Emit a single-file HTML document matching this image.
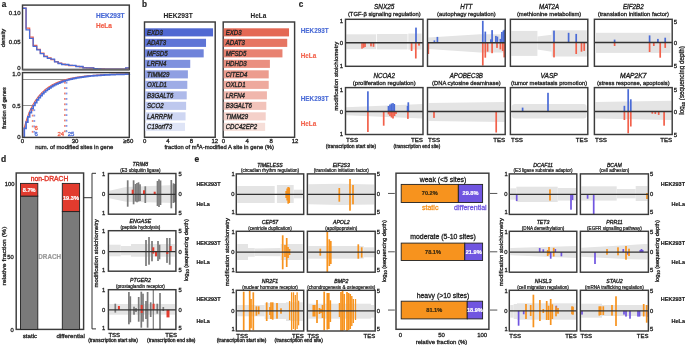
<!DOCTYPE html><html><head><meta charset="utf-8"><style>html,body{margin:0;padding:0;background:#fff;}svg{display:block;will-change:transform}text{font-family:"Liberation Sans",sans-serif;}</style></head><body>
<svg width="685" height="345" viewBox="0 0 685 345">
<rect width="685" height="345" fill="#fff"/>
<text x="1.80" y="7.30" font-size="8.2" text-anchor="start" fill="#222" stroke="#222" stroke-width="0.2" font-weight="bold" font-style="normal" >a</text>
<polyline points="22.50,8.26 26.06,8.26 26.06,28.14 29.62,28.14 29.62,37.22 33.18,37.22 33.18,45.46 36.74,45.46 36.74,49.44 40.30,49.44 40.30,53.13 43.86,53.13 43.86,56.25 47.42,56.25 47.42,57.96 50.98,57.96 50.98,59.66 54.54,59.66 54.54,61.53 58.10,61.53 58.10,63.24 61.66,63.24 61.66,64.26 65.22,64.26 65.22,64.77 68.78,64.77 68.78,65.51 72.34,65.51 72.34,65.62 75.90,65.62 75.90,66.31 79.46,66.31 79.46,66.76 83.02,66.76 83.02,67.61 86.58,67.61 86.58,67.90 90.14,67.90 90.14,68.01 93.70,68.01 93.70,68.58 97.26,68.58 97.26,68.80 100.82,68.80 100.82,68.92 104.38,68.92 104.38,69.03 107.94,69.03 107.94,69.09 111.50,69.09 111.50,69.15 115.06,69.15 115.06,69.20 118.62,69.20 118.62,69.20 122.18,69.20 122.18,69.26 125.74,69.26 125.74,68.18 129.30,68.18" fill="none" stroke="#f2604a" stroke-width="1.3"/>
<polyline points="22.50,8.26 26.06,8.26 26.06,29.84 29.62,29.84 29.62,38.36 33.18,38.36 33.18,46.31 36.74,46.31 36.74,49.89 40.30,49.89 40.30,53.53 43.86,53.53 43.86,56.59 47.42,56.59 47.42,58.30 50.98,58.30 50.98,59.21 54.54,59.21 54.54,61.88 58.10,61.88 58.10,63.52 61.66,63.52 61.66,64.49 65.22,64.49 65.22,64.49 68.78,64.49 68.78,65.28 72.34,65.28 72.34,65.28 75.90,65.28 75.90,66.48 79.46,66.48 79.46,66.48 83.02,66.48 83.02,67.78 86.58,67.78 86.58,67.78 90.14,67.78 90.14,67.78 93.70,67.78 93.70,68.75 97.26,68.75 97.26,68.92 100.82,68.92 100.82,69.03 104.38,69.03 104.38,69.03 107.94,69.03 107.94,69.09 111.50,69.09 111.50,69.15 115.06,69.15 115.06,69.15 118.62,69.15 118.62,69.20 122.18,69.20 122.18,69.20 125.74,69.20 125.74,67.78 129.30,67.78" fill="none" stroke="#4a6bd6" stroke-width="1.3"/>
<rect x="22.50" y="5.10" width="106.80" height="64.50" fill="none" stroke="#3c3c3c" stroke-width="1.45"/>
<line x1="22.50" y1="69.60" x2="129.30" y2="69.60" stroke="#666" stroke-width="1.6" />
<text x="20.50" y="14.96" font-size="6" text-anchor="end" fill="#222" stroke="#222" stroke-width="0.3" font-weight="normal" font-style="normal" >0.10</text>
<text x="20.50" y="44.36" font-size="6" text-anchor="end" fill="#222" stroke="#222" stroke-width="0.3" font-weight="normal" font-style="normal" >0.05</text>
<text x="20.50" y="69.96" font-size="6" text-anchor="end" fill="#222" stroke="#222" stroke-width="0.3" font-weight="normal" font-style="normal" >0</text>
<text transform="translate(5.43,38.00) rotate(-90)" font-size="6.2" text-anchor="middle" fill="#222" stroke="#222" stroke-width="0.3" font-weight="normal" font-style="normal" textLength="18.6" lengthAdjust="spacingAndGlyphs">density</text>
<text x="96.00" y="18.14" font-size="6.5" text-anchor="start" fill="#4a6bd6" stroke="#4a6bd6" stroke-width="0.2" font-weight="bold" font-style="normal" >HEK293T</text>
<text x="96.00" y="28.24" font-size="6.5" text-anchor="start" fill="#f2604a" stroke="#f2604a" stroke-width="0.2" font-weight="bold" font-style="normal" >HeLa</text>
<line x1="22.50" y1="79.50" x2="65.60" y2="79.50" stroke="#777" stroke-width="0.8" />
<line x1="22.50" y1="105.50" x2="33.20" y2="105.50" stroke="#777" stroke-width="0.8" />
<polyline points="24.28,137.40 24.28,127.85 25.17,124.39 26.06,121.32 26.95,118.54 27.84,116.01 28.73,113.68 29.62,111.52 30.51,109.52 31.40,107.66 32.29,105.92 33.18,104.30 34.07,102.77 34.96,101.34 35.85,99.99 36.74,98.73 37.63,97.53 38.52,96.40 39.41,95.34 40.30,94.33 41.19,93.37 42.08,92.47 42.97,91.62 43.86,90.80 44.75,90.04 45.64,89.30 46.53,88.61 47.42,87.95 48.31,87.32 49.20,86.73 50.09,86.16 50.98,85.62 51.87,85.10 52.76,84.61 53.65,84.15 54.54,83.70 55.43,83.28 56.32,82.87 57.21,82.48 58.10,82.12 58.99,81.76 59.88,81.43 60.77,81.11 61.66,80.80 62.55,80.50 63.44,80.22 64.33,79.96 65.22,79.70 66.11,79.45 67.00,79.22 67.89,78.99 68.78,78.78 69.67,78.57 70.56,78.38 71.45,78.19 72.34,78.01 73.23,77.83 74.12,77.67 75.01,77.51 75.90,77.36 76.79,77.21 77.68,77.07 78.57,76.94 79.46,76.81 80.35,76.68 81.24,76.57 82.13,76.45 83.02,76.34 83.91,76.24 84.80,76.14 85.69,76.04 86.58,75.95 87.47,75.86 88.36,75.78 89.25,75.69 90.14,75.62 91.03,75.54 91.92,75.47 92.81,75.40 93.70,75.33 94.59,75.27 95.48,75.20 96.37,75.14 97.26,75.09 98.15,75.03 99.04,74.98 99.93,74.93 100.82,74.88 101.71,74.83 102.60,74.79 103.49,74.75 104.38,74.70 105.27,74.66 106.16,74.62 107.05,74.59 107.94,74.55 108.83,74.52 109.72,74.48 110.61,74.45 111.50,74.42 112.39,74.39 113.28,74.36 114.17,74.34 115.06,74.31 115.95,74.28 116.84,74.26 117.73,74.24 118.62,74.21 119.51,74.19 120.40,74.17 121.29,74.15 122.18,74.13 123.07,74.11 123.96,74.09 124.85,74.08 125.74,74.06 126.63,74.04 127.52,74.03 128.41,74.01 129.30,74.00 129.30,73.99" fill="none" stroke="#f2604a" stroke-width="1.1"/>
<polyline points="24.28,137.40 24.28,128.31 26.06,128.31 26.06,122.04 27.84,122.04 27.84,116.92 29.62,116.92 29.62,112.56 31.40,112.56 31.40,108.79 33.18,108.79 33.18,105.49 34.96,105.49 34.96,102.57 36.74,102.57 36.74,99.97 38.52,99.97 38.52,97.65 40.30,97.65 40.30,95.58 42.08,95.58 42.08,93.71 43.86,93.71 43.86,92.02 45.64,92.02 45.64,90.49 47.42,90.49 47.42,89.11 49.20,89.11 49.20,87.85 50.98,87.85 50.98,86.71 52.76,86.71 52.76,85.67 54.54,85.67 54.54,84.72 56.32,84.72 56.32,83.85 58.10,83.85 58.10,83.06 59.88,83.06 59.88,82.33 61.66,82.33 61.66,81.66 63.44,81.66 63.44,81.05 65.22,81.05 65.22,80.49 67.00,80.49 67.00,79.98 68.78,79.98 68.78,79.50 70.56,79.50 70.56,79.07 72.34,79.07 72.34,78.66 74.12,78.66 74.12,78.29 75.90,78.29 75.90,77.95 77.68,77.95 77.68,77.64 79.46,77.64 79.46,77.35 81.24,77.35 81.24,77.08 83.02,77.08 83.02,76.83 84.80,76.83 84.80,76.60 86.58,76.60 86.58,76.39 88.36,76.39 88.36,76.19 90.14,76.19 90.14,76.01 91.92,76.01 91.92,75.84 93.70,75.84 93.70,75.69 95.48,75.69 95.48,75.54 97.26,75.54 97.26,75.41 99.04,75.41 99.04,75.28 100.82,75.28 100.82,75.17 102.60,75.17 102.60,75.06 104.38,75.06 104.38,74.96 106.16,74.96 106.16,74.87 107.94,74.87 107.94,74.78 109.72,74.78 109.72,74.70 111.50,74.70 111.50,74.63 113.28,74.63 113.28,74.56 115.06,74.56 115.06,74.50 116.84,74.50 116.84,74.44 118.62,74.44 118.62,74.38 120.40,74.38 120.40,74.33 122.18,74.33 122.18,74.28 123.96,74.28 123.96,74.24 125.74,74.24 125.74,74.20 127.52,74.20 127.52,74.16 129.30,74.16 129.30,74.12 129.30,74.12" fill="none" stroke="#4a6bd6" stroke-width="1.7"/>
<rect x="31.80" y="109.30" width="1.70" height="1.80" fill="#f3846f" />
<rect x="33.50" y="109.30" width="1.70" height="1.80" fill="#7f9aeb" />
<rect x="31.80" y="114.70" width="1.70" height="1.80" fill="#f3846f" />
<rect x="33.50" y="114.70" width="1.70" height="1.80" fill="#7f9aeb" />
<rect x="31.80" y="120.10" width="1.70" height="1.80" fill="#f3846f" />
<rect x="33.50" y="120.10" width="1.70" height="1.80" fill="#7f9aeb" />
<rect x="31.80" y="125.50" width="1.70" height="1.80" fill="#f3846f" />
<rect x="33.50" y="125.50" width="1.70" height="1.80" fill="#7f9aeb" />
<rect x="31.80" y="130.90" width="1.70" height="1.80" fill="#f3846f" />
<rect x="33.50" y="130.90" width="1.70" height="1.80" fill="#7f9aeb" />
<rect x="64.00" y="81.80" width="1.70" height="1.80" fill="#f3846f" />
<rect x="65.70" y="81.80" width="1.70" height="1.80" fill="#7f9aeb" />
<rect x="64.00" y="87.20" width="1.70" height="1.80" fill="#f3846f" />
<rect x="65.70" y="87.20" width="1.70" height="1.80" fill="#7f9aeb" />
<rect x="64.00" y="92.60" width="1.70" height="1.80" fill="#f3846f" />
<rect x="65.70" y="92.60" width="1.70" height="1.80" fill="#7f9aeb" />
<rect x="64.00" y="98.00" width="1.70" height="1.80" fill="#f3846f" />
<rect x="65.70" y="98.00" width="1.70" height="1.80" fill="#7f9aeb" />
<rect x="64.00" y="103.40" width="1.70" height="1.80" fill="#f3846f" />
<rect x="65.70" y="103.40" width="1.70" height="1.80" fill="#7f9aeb" />
<rect x="64.00" y="108.80" width="1.70" height="1.80" fill="#f3846f" />
<rect x="65.70" y="108.80" width="1.70" height="1.80" fill="#7f9aeb" />
<rect x="64.00" y="114.20" width="1.70" height="1.80" fill="#f3846f" />
<rect x="65.70" y="114.20" width="1.70" height="1.80" fill="#7f9aeb" />
<rect x="64.00" y="119.60" width="1.70" height="1.80" fill="#f3846f" />
<rect x="65.70" y="119.60" width="1.70" height="1.80" fill="#7f9aeb" />
<rect x="64.00" y="125.00" width="1.70" height="1.80" fill="#f3846f" />
<rect x="65.70" y="125.00" width="1.70" height="1.80" fill="#7f9aeb" />
<rect x="64.00" y="130.40" width="1.70" height="1.80" fill="#f3846f" />
<rect x="65.70" y="130.40" width="1.70" height="1.80" fill="#7f9aeb" />
<rect x="22.50" y="72.60" width="106.80" height="64.80" fill="none" stroke="#3c3c3c" stroke-width="1.45"/>
<text x="34.60" y="129.56" font-size="6" text-anchor="start" fill="#f2604a" stroke="#f2604a" stroke-width="0.3" font-weight="normal" font-style="normal" >6</text>
<text x="34.60" y="136.06" font-size="6" text-anchor="start" fill="#4a6bd6" stroke="#4a6bd6" stroke-width="0.3" font-weight="normal" font-style="normal" >6</text>
<text x="64.20" y="136.06" font-size="6" text-anchor="end" fill="#f2604a" stroke="#f2604a" stroke-width="0.3" font-weight="normal" font-style="normal" >24</text>
<text x="67.70" y="136.06" font-size="6" text-anchor="start" fill="#4a6bd6" stroke="#4a6bd6" stroke-width="0.3" font-weight="normal" font-style="normal" >25</text>
<text x="66.2" y="132.5" font-size="4" fill="#777" text-anchor="middle">*</text>
<text x="20.50" y="75.76" font-size="6" text-anchor="end" fill="#222" stroke="#222" stroke-width="0.3" font-weight="normal" font-style="normal" >1.0</text>
<text x="20.50" y="107.66" font-size="6" text-anchor="end" fill="#222" stroke="#222" stroke-width="0.3" font-weight="normal" font-style="normal" >0.5</text>
<text x="20.50" y="139.16" font-size="6" text-anchor="end" fill="#222" stroke="#222" stroke-width="0.3" font-weight="normal" font-style="normal" >0</text>
<text transform="translate(6.43,108.00) rotate(-90)" font-size="6.2" text-anchor="middle" fill="#222" stroke="#222" stroke-width="0.3" font-weight="normal" font-style="normal" textLength="41.5" lengthAdjust="spacingAndGlyphs">fraction of genes</text>
<text x="22.50" y="143.46" font-size="6" text-anchor="middle" fill="#222" stroke="#222" stroke-width="0.3" font-weight="normal" font-style="normal" >0</text>
<text x="75.10" y="143.46" font-size="6" text-anchor="middle" fill="#222" stroke="#222" stroke-width="0.3" font-weight="normal" font-style="normal" >30</text>
<text x="128.30" y="143.46" font-size="6" text-anchor="middle" fill="#222" stroke="#222" stroke-width="0.3" font-weight="normal" font-style="normal" >≥60</text>
<text x="74.30" y="149.46" font-size="6" text-anchor="middle" fill="#222" stroke="#222" stroke-width="0.3" font-weight="normal" font-style="normal"  textLength="78.2" lengthAdjust="spacingAndGlyphs">num. of modified sites in gene</text>
<text x="142.00" y="7.20" font-size="8.2" text-anchor="start" fill="#222" stroke="#222" stroke-width="0.2" font-weight="bold" font-style="normal" >b</text>
<text x="178.10" y="18.14" font-size="6.5" text-anchor="middle" fill="#222" stroke="#222" stroke-width="0.05" font-weight="bold" font-style="normal"  textLength="29.2" lengthAdjust="spacingAndGlyphs">HEK293T</text>
<rect x="144.50" y="22.00" width="70.70" height="115.30" fill="none" stroke="#3c3c3c" stroke-width="1.45"/>
<rect x="145.00" y="28.30" width="68.05" height="8.10" fill="#5068d2" />
<text x="147.00" y="34.92" font-size="7.0" text-anchor="start" fill="#2a2a2a" stroke="#2a2a2a" stroke-width="0.38" font-weight="normal" font-style="italic"  textLength="15.91" lengthAdjust="spacingAndGlyphs">EXD3</text>
<rect x="145.00" y="38.80" width="61.03" height="8.10" fill="#5f75d6" />
<text x="147.00" y="45.42" font-size="7.0" text-anchor="start" fill="#2a2a2a" stroke="#2a2a2a" stroke-width="0.38" font-weight="normal" font-style="italic"  textLength="19.18" lengthAdjust="spacingAndGlyphs">ADAT3</text>
<rect x="145.00" y="49.30" width="58.69" height="8.10" fill="#6f83da" />
<text x="147.00" y="55.92" font-size="7.0" text-anchor="start" fill="#2a2a2a" stroke="#2a2a2a" stroke-width="0.38" font-weight="normal" font-style="italic"  textLength="20.64" lengthAdjust="spacingAndGlyphs">MFSD5</text>
<rect x="145.00" y="59.80" width="45.23" height="8.10" fill="#7f91de" />
<text x="147.00" y="66.42" font-size="7.0" text-anchor="start" fill="#2a2a2a" stroke="#2a2a2a" stroke-width="0.38" font-weight="normal" font-style="italic"  textLength="19.29" lengthAdjust="spacingAndGlyphs">LRFN4</text>
<rect x="145.00" y="70.30" width="42.89" height="8.10" fill="#8f9fe2" />
<text x="147.00" y="76.92" font-size="7.0" text-anchor="start" fill="#2a2a2a" stroke="#2a2a2a" stroke-width="0.38" font-weight="normal" font-style="italic"  textLength="22.33" lengthAdjust="spacingAndGlyphs">TIMM29</text>
<rect x="145.00" y="80.80" width="42.31" height="8.10" fill="#9eace6" />
<text x="147.00" y="87.42" font-size="7.0" text-anchor="start" fill="#2a2a2a" stroke="#2a2a2a" stroke-width="0.38" font-weight="normal" font-style="italic"  textLength="19.97" lengthAdjust="spacingAndGlyphs">OXLD1</text>
<rect x="145.00" y="91.30" width="41.72" height="8.10" fill="#aebaea" />
<text x="147.00" y="97.92" font-size="7.0" text-anchor="start" fill="#2a2a2a" stroke="#2a2a2a" stroke-width="0.38" font-weight="normal" font-style="italic"  textLength="26.29" lengthAdjust="spacingAndGlyphs">B3GALT6</text>
<rect x="145.00" y="101.80" width="41.13" height="8.10" fill="#bec8ee" />
<text x="147.00" y="108.42" font-size="7.0" text-anchor="start" fill="#2a2a2a" stroke="#2a2a2a" stroke-width="0.38" font-weight="normal" font-style="italic"  textLength="16.58" lengthAdjust="spacingAndGlyphs">SCO2</text>
<rect x="145.00" y="112.30" width="40.55" height="8.10" fill="#ced6f2" />
<text x="147.00" y="118.92" font-size="7.0" text-anchor="start" fill="#2a2a2a" stroke="#2a2a2a" stroke-width="0.38" font-weight="normal" font-style="italic"  textLength="25.38" lengthAdjust="spacingAndGlyphs">LARRPM</text>
<rect x="145.00" y="122.80" width="39.97" height="8.10" fill="#dee4f6" />
<text x="147.00" y="129.42" font-size="7.0" text-anchor="start" fill="#2a2a2a" stroke="#2a2a2a" stroke-width="0.38" font-weight="normal" font-style="italic"  textLength="25.05" lengthAdjust="spacingAndGlyphs">C19orf73</text>
<text x="144.60" y="142.96" font-size="6" text-anchor="middle" fill="#222" stroke="#222" stroke-width="0.3" font-weight="normal" font-style="normal" >0</text>
<text x="168.00" y="142.96" font-size="6" text-anchor="middle" fill="#222" stroke="#222" stroke-width="0.3" font-weight="normal" font-style="normal" >4</text>
<text x="191.40" y="142.96" font-size="6" text-anchor="middle" fill="#222" stroke="#222" stroke-width="0.3" font-weight="normal" font-style="normal" >8</text>
<text x="214.80" y="142.96" font-size="6" text-anchor="middle" fill="#222" stroke="#222" stroke-width="0.3" font-weight="normal" font-style="normal" >12</text>
<text x="258.40" y="18.14" font-size="6.5" text-anchor="middle" fill="#222" stroke="#222" stroke-width="0.05" font-weight="bold" font-style="normal"  textLength="15.7" lengthAdjust="spacingAndGlyphs">HeLa</text>
<rect x="223.20" y="22.00" width="71.40" height="115.30" fill="none" stroke="#3c3c3c" stroke-width="1.45"/>
<rect x="223.70" y="28.30" width="65.32" height="8.10" fill="#e46854" />
<text x="225.70" y="34.92" font-size="7.0" text-anchor="start" fill="#2a2a2a" stroke="#2a2a2a" stroke-width="0.38" font-weight="normal" font-style="italic"  textLength="15.91" lengthAdjust="spacingAndGlyphs">EXD3</text>
<rect x="223.70" y="38.80" width="63.53" height="8.10" fill="#e67562" />
<text x="225.70" y="45.42" font-size="7.0" text-anchor="start" fill="#2a2a2a" stroke="#2a2a2a" stroke-width="0.38" font-weight="normal" font-style="italic"  textLength="19.18" lengthAdjust="spacingAndGlyphs">ADAT3</text>
<rect x="223.70" y="49.30" width="58.75" height="8.10" fill="#e88271" />
<text x="225.70" y="55.92" font-size="7.0" text-anchor="start" fill="#2a2a2a" stroke="#2a2a2a" stroke-width="0.38" font-weight="normal" font-style="italic"  textLength="20.64" lengthAdjust="spacingAndGlyphs">MFSD5</text>
<rect x="223.70" y="59.80" width="46.20" height="8.10" fill="#ea8f80" />
<text x="225.70" y="66.42" font-size="7.0" text-anchor="start" fill="#2a2a2a" stroke="#2a2a2a" stroke-width="0.38" font-weight="normal" font-style="italic"  textLength="20.98" lengthAdjust="spacingAndGlyphs">HDHD3</text>
<rect x="223.70" y="70.30" width="45.01" height="8.10" fill="#ec9c8e" />
<text x="225.70" y="76.92" font-size="7.0" text-anchor="start" fill="#2a2a2a" stroke="#2a2a2a" stroke-width="0.38" font-weight="normal" font-style="italic"  textLength="21.66" lengthAdjust="spacingAndGlyphs">CITED4</text>
<rect x="223.70" y="80.80" width="45.01" height="8.10" fill="#eea99d" />
<text x="225.70" y="87.42" font-size="7.0" text-anchor="start" fill="#2a2a2a" stroke="#2a2a2a" stroke-width="0.38" font-weight="normal" font-style="italic"  textLength="19.97" lengthAdjust="spacingAndGlyphs">OXLD1</text>
<rect x="223.70" y="91.30" width="43.22" height="8.10" fill="#f0b6ac" />
<text x="225.70" y="97.92" font-size="7.0" text-anchor="start" fill="#2a2a2a" stroke="#2a2a2a" stroke-width="0.38" font-weight="normal" font-style="italic"  textLength="19.29" lengthAdjust="spacingAndGlyphs">LRFN4</text>
<rect x="223.70" y="101.80" width="42.62" height="8.10" fill="#f2c3ba" />
<text x="225.70" y="108.42" font-size="7.0" text-anchor="start" fill="#2a2a2a" stroke="#2a2a2a" stroke-width="0.38" font-weight="normal" font-style="italic"  textLength="26.29" lengthAdjust="spacingAndGlyphs">B3GALT6</text>
<rect x="223.70" y="112.30" width="42.02" height="8.10" fill="#f4d0c9" />
<text x="225.70" y="118.92" font-size="7.0" text-anchor="start" fill="#2a2a2a" stroke="#2a2a2a" stroke-width="0.38" font-weight="normal" font-style="italic"  textLength="22.33" lengthAdjust="spacingAndGlyphs">TIMM29</text>
<rect x="223.70" y="122.80" width="41.43" height="8.10" fill="#f6ded8" />
<text x="225.70" y="129.42" font-size="7.0" text-anchor="start" fill="#2a2a2a" stroke="#2a2a2a" stroke-width="0.38" font-weight="normal" font-style="italic"  textLength="31.48" lengthAdjust="spacingAndGlyphs">CDC42EP2</text>
<text x="223.30" y="142.96" font-size="6" text-anchor="middle" fill="#222" stroke="#222" stroke-width="0.3" font-weight="normal" font-style="normal" >0</text>
<text x="247.20" y="142.96" font-size="6" text-anchor="middle" fill="#222" stroke="#222" stroke-width="0.3" font-weight="normal" font-style="normal" >4</text>
<text x="271.10" y="142.96" font-size="6" text-anchor="middle" fill="#222" stroke="#222" stroke-width="0.3" font-weight="normal" font-style="normal" >8</text>
<text x="295.00" y="142.96" font-size="6" text-anchor="middle" fill="#222" stroke="#222" stroke-width="0.3" font-weight="normal" font-style="normal" >12</text>
<text x="219.20" y="149.01" font-size="5.85" text-anchor="middle" fill="#222" stroke="#222" stroke-width="0.3" font-weight="normal" font-style="normal" >fraction of m<tspan font-size="4" dy="-2">6</tspan><tspan dy="2">A-modified A site in gene (%)</tspan></text>
<text x="298.80" y="7.30" font-size="8.2" text-anchor="start" fill="#222" stroke="#222" stroke-width="0.2" font-weight="bold" font-style="normal" >c</text>
<rect x="346.30" y="34.30" width="29.70" height="14.90" fill="#e4e4e4" />
<rect x="376.80" y="34.00" width="30.70" height="15.40" fill="#e4e4e4" />
<rect x="408.30" y="33.60" width="13.30" height="16.00" fill="#e4e4e4" />
<rect x="415.15" y="27.60" width="1.70" height="15.20" fill="#4a6bd6" />
<rect x="361.25" y="42.80" width="1.50" height="5.90" fill="#f2604a" />
<rect x="362.65" y="42.80" width="1.70" height="5.00" fill="#f2604a" />
<rect x="364.15" y="42.80" width="1.70" height="4.20" fill="#f2604a" />
<rect x="370.15" y="42.80" width="1.70" height="3.60" fill="#f2604a" />
<rect x="372.65" y="42.80" width="1.70" height="4.00" fill="#f2604a" />
<rect x="410.75" y="42.80" width="1.70" height="8.20" fill="#f2604a" />
<rect x="414.95" y="42.80" width="1.70" height="15.70" fill="#f2604a" />
<rect x="418.15" y="42.80" width="1.70" height="2.80" fill="#f2604a" />
<line x1="345.50" y1="42.80" x2="423.00" y2="42.80" stroke="#333" stroke-width="1.5" />
<rect x="345.50" y="19.30" width="77.50" height="47.00" fill="none" stroke="#3c3c3c" stroke-width="1.45"/>
<text x="384.25" y="9.48" font-size="6.6" text-anchor="middle" fill="#222" stroke="#222" stroke-width="0.32" font-weight="normal" font-style="italic"  textLength="20.3" lengthAdjust="spacingAndGlyphs">SNX25</text>
<text x="384.25" y="16.46" font-size="6.0" text-anchor="middle" fill="#222" stroke="#222" stroke-width="0.3" font-weight="normal" font-style="normal"  textLength="72.7" lengthAdjust="spacingAndGlyphs">(TGF-β signaling regulation)</text>
<polygon points="428.30,37.40 480.00,34.30 504.30,34.30 504.30,52.40 480.00,52.40 428.30,49.00" fill="#e4e4e4"/>
<rect x="433.55" y="40.40" width="1.70" height="2.40" fill="#4a6bd6" />
<rect x="436.55" y="36.90" width="1.70" height="5.90" fill="#4a6bd6" />
<rect x="481.95" y="20.80" width="1.70" height="22.00" fill="#4a6bd6" />
<rect x="484.45" y="31.60" width="1.70" height="11.20" fill="#4a6bd6" />
<rect x="490.05" y="39.30" width="1.70" height="3.50" fill="#4a6bd6" />
<rect x="491.25" y="30.10" width="1.70" height="12.70" fill="#4a6bd6" />
<rect x="495.05" y="35.90" width="1.70" height="6.90" fill="#4a6bd6" />
<rect x="496.55" y="36.60" width="1.70" height="6.20" fill="#4a6bd6" />
<rect x="499.55" y="38.90" width="1.70" height="3.90" fill="#4a6bd6" />
<rect x="501.05" y="32.00" width="1.70" height="10.80" fill="#4a6bd6" />
<rect x="502.55" y="30.60" width="1.70" height="12.20" fill="#4a6bd6" />
<rect x="503.55" y="29.80" width="1.70" height="13.00" fill="#4a6bd6" />
<rect x="427.45" y="42.80" width="1.70" height="11.20" fill="#f2604a" />
<rect x="481.95" y="42.80" width="1.70" height="22.80" fill="#f2604a" />
<rect x="484.45" y="42.80" width="1.70" height="14.90" fill="#f2604a" />
<rect x="486.75" y="42.80" width="1.70" height="8.90" fill="#f2604a" />
<rect x="491.25" y="42.80" width="1.70" height="10.40" fill="#f2604a" />
<rect x="496.15" y="42.80" width="1.70" height="5.10" fill="#f2604a" />
<rect x="499.55" y="42.80" width="1.70" height="6.60" fill="#f2604a" />
<rect x="501.85" y="42.80" width="1.70" height="8.20" fill="#f2604a" />
<rect x="503.35" y="42.80" width="1.70" height="14.60" fill="#f2604a" />
<line x1="427.50" y1="42.80" x2="505.20" y2="42.80" stroke="#333" stroke-width="1.5" />
<rect x="427.50" y="19.30" width="77.70" height="47.00" fill="none" stroke="#3c3c3c" stroke-width="1.45"/>
<text x="466.35" y="9.48" font-size="6.6" text-anchor="middle" fill="#222" stroke="#222" stroke-width="0.32" font-weight="normal" font-style="italic"  textLength="12.1" lengthAdjust="spacingAndGlyphs">HTT</text>
<text x="466.35" y="16.46" font-size="6.0" text-anchor="middle" fill="#222" stroke="#222" stroke-width="0.3" font-weight="normal" font-style="normal"  textLength="58.5" lengthAdjust="spacingAndGlyphs">(autophagy regulation)</text>
<rect x="511.30" y="30.90" width="26.10" height="25.00" fill="#e4e4e4" />
<polygon points="537.40,36.60 551.70,34.80 551.70,51.70 537.40,49.40" fill="#e4e4e4"/>
<rect x="551.70" y="30.30" width="35.10" height="26.20" fill="#e4e4e4" />
<rect x="553.15" y="30.60" width="1.70" height="11.80" fill="#4a6bd6" />
<rect x="567.75" y="32.80" width="1.70" height="9.60" fill="#4a6bd6" />
<rect x="575.35" y="33.90" width="1.70" height="8.50" fill="#4a6bd6" />
<rect x="553.15" y="42.40" width="1.70" height="15.00" fill="#f2604a" />
<rect x="575.35" y="42.40" width="1.70" height="11.60" fill="#f2604a" />
<rect x="580.65" y="42.40" width="1.70" height="9.30" fill="#f2604a" />
<rect x="583.35" y="42.40" width="1.70" height="8.50" fill="#f2604a" />
<line x1="510.40" y1="42.40" x2="587.80" y2="42.40" stroke="#333" stroke-width="1.5" />
<rect x="510.40" y="19.30" width="77.40" height="47.00" fill="none" stroke="#3c3c3c" stroke-width="1.45"/>
<text x="549.10" y="9.48" font-size="6.6" text-anchor="middle" fill="#222" stroke="#222" stroke-width="0.32" font-weight="normal" font-style="italic"  textLength="20" lengthAdjust="spacingAndGlyphs">MAT2A</text>
<text x="549.10" y="16.46" font-size="6.0" text-anchor="middle" fill="#222" stroke="#222" stroke-width="0.3" font-weight="normal" font-style="normal"  textLength="64.4" lengthAdjust="spacingAndGlyphs">(methionine metabolism)</text>
<rect x="596.00" y="32.80" width="74.50" height="20.10" fill="#e4e4e4" />
<rect x="613.75" y="39.60" width="1.70" height="2.80" fill="#4a6bd6" />
<rect x="648.75" y="35.40" width="1.70" height="7.00" fill="#4a6bd6" />
<rect x="657.05" y="38.90" width="1.70" height="3.50" fill="#4a6bd6" />
<rect x="664.35" y="37.70" width="1.70" height="4.70" fill="#4a6bd6" />
<rect x="613.75" y="42.40" width="1.70" height="3.60" fill="#f2604a" />
<rect x="648.75" y="42.40" width="1.70" height="9.60" fill="#f2604a" />
<rect x="652.95" y="42.40" width="1.70" height="3.60" fill="#f2604a" />
<rect x="659.35" y="42.40" width="1.70" height="15.30" fill="#f2604a" />
<rect x="664.35" y="42.40" width="1.70" height="5.50" fill="#f2604a" />
<line x1="594.40" y1="42.40" x2="672.20" y2="42.40" stroke="#333" stroke-width="1.5" />
<rect x="594.40" y="19.30" width="77.80" height="47.00" fill="none" stroke="#3c3c3c" stroke-width="1.45"/>
<text x="633.30" y="9.48" font-size="6.6" text-anchor="middle" fill="#222" stroke="#222" stroke-width="0.32" font-weight="normal" font-style="italic"  textLength="20.8" lengthAdjust="spacingAndGlyphs">EIF2B2</text>
<text x="633.30" y="16.46" font-size="6.0" text-anchor="middle" fill="#222" stroke="#222" stroke-width="0.3" font-weight="normal" font-style="normal"  textLength="71.2" lengthAdjust="spacingAndGlyphs">(translation initiation factor)</text>
<text x="341.50" y="23.46" font-size="6" text-anchor="middle" fill="#222" stroke="#222" stroke-width="0.3" font-weight="normal" font-style="normal" >1</text>
<text x="341.50" y="44.96" font-size="6" text-anchor="middle" fill="#222" stroke="#222" stroke-width="0.3" font-weight="normal" font-style="normal" >0</text>
<text x="341.50" y="67.96" font-size="6" text-anchor="middle" fill="#222" stroke="#222" stroke-width="0.3" font-weight="normal" font-style="normal" >1</text>
<text x="675.50" y="23.96" font-size="6" text-anchor="middle" fill="#222" stroke="#222" stroke-width="0.3" font-weight="normal" font-style="normal" >5</text>
<text x="675.50" y="44.96" font-size="6" text-anchor="middle" fill="#222" stroke="#222" stroke-width="0.3" font-weight="normal" font-style="normal" >0</text>
<text x="675.50" y="68.46" font-size="6" text-anchor="middle" fill="#222" stroke="#222" stroke-width="0.3" font-weight="normal" font-style="normal" >5</text>
<text x="300.80" y="33.17" font-size="6.3" text-anchor="start" fill="#4a6bd6" stroke="#4a6bd6" stroke-width="0.1" font-weight="bold" font-style="normal"  textLength="27.8" lengthAdjust="spacingAndGlyphs">HEK293T</text>
<text x="300.80" y="57.97" font-size="6.3" text-anchor="start" fill="#f2604a" stroke="#f2604a" stroke-width="0.1" font-weight="bold" font-style="normal"  textLength="15.4" lengthAdjust="spacingAndGlyphs">HeLa</text>
<polygon points="346.00,107.30 422.50,103.90 422.50,118.50 346.00,115.20" fill="#e4e4e4"/>
<rect x="367.05" y="91.30" width="1.70" height="20.10" fill="#4a6bd6" />
<rect x="387.65" y="106.00" width="1.70" height="5.40" fill="#4a6bd6" />
<rect x="389.15" y="104.50" width="1.70" height="6.90" fill="#4a6bd6" />
<rect x="390.65" y="103.50" width="1.70" height="7.90" fill="#4a6bd6" />
<rect x="392.15" y="103.10" width="1.70" height="8.30" fill="#4a6bd6" />
<rect x="393.45" y="104.00" width="1.70" height="7.40" fill="#4a6bd6" />
<rect x="406.75" y="106.00" width="1.70" height="5.40" fill="#4a6bd6" />
<rect x="407.45" y="102.30" width="1.70" height="9.10" fill="#4a6bd6" />
<rect x="367.05" y="111.40" width="1.70" height="20.60" fill="#f2604a" />
<rect x="382.85" y="111.40" width="1.70" height="14.30" fill="#f2604a" />
<rect x="387.65" y="111.40" width="1.70" height="3.00" fill="#f2604a" />
<rect x="389.15" y="111.40" width="1.70" height="4.60" fill="#f2604a" />
<rect x="390.65" y="111.40" width="1.70" height="6.10" fill="#f2604a" />
<rect x="392.15" y="111.40" width="1.70" height="7.10" fill="#f2604a" />
<rect x="393.65" y="111.40" width="1.70" height="4.60" fill="#f2604a" />
<rect x="395.15" y="111.40" width="1.70" height="2.60" fill="#f2604a" />
<rect x="407.05" y="111.40" width="1.70" height="7.50" fill="#f2604a" />
<line x1="345.50" y1="111.40" x2="423.00" y2="111.40" stroke="#333" stroke-width="1.5" />
<rect x="345.50" y="87.60" width="77.50" height="46.90" fill="none" stroke="#3c3c3c" stroke-width="1.45"/>
<text x="384.25" y="77.78" font-size="6.6" text-anchor="middle" fill="#222" stroke="#222" stroke-width="0.32" font-weight="normal" font-style="italic"  textLength="21.5" lengthAdjust="spacingAndGlyphs">NCOA2</text>
<text x="384.25" y="84.76" font-size="6.0" text-anchor="middle" fill="#222" stroke="#222" stroke-width="0.3" font-weight="normal" font-style="normal"  textLength="62.8" lengthAdjust="spacingAndGlyphs">(proliferation regulation)</text>
<polygon points="428.70,103.10 504.50,101.90 504.50,122.00 428.70,120.90" fill="#e4e4e4"/>
<rect x="433.15" y="111.40" width="1.70" height="6.50" fill="#f2604a" />
<rect x="495.35" y="111.40" width="1.70" height="21.10" fill="#f2604a" />
<line x1="427.50" y1="111.40" x2="505.20" y2="111.40" stroke="#333" stroke-width="1.5" />
<rect x="427.50" y="87.60" width="77.70" height="46.90" fill="none" stroke="#3c3c3c" stroke-width="1.45"/>
<text x="466.35" y="77.78" font-size="6.6" text-anchor="middle" fill="#222" stroke="#222" stroke-width="0.32" font-weight="normal" font-style="italic"  textLength="33.3" lengthAdjust="spacingAndGlyphs">APOBEC3B</text>
<text x="466.35" y="84.76" font-size="6.0" text-anchor="middle" fill="#222" stroke="#222" stroke-width="0.3" font-weight="normal" font-style="normal"  textLength="68.5" lengthAdjust="spacingAndGlyphs">(DNA cytosine deaminase)</text>
<rect x="511.8" y="103.9" width="74.80000000000001" height="14.599999999999994" rx="3" fill="#e4e4e4"/>
<rect x="521.75" y="107.60" width="1.70" height="3.80" fill="#4a6bd6" />
<rect x="547.15" y="92.80" width="1.70" height="18.60" fill="#4a6bd6" />
<line x1="510.40" y1="111.40" x2="587.80" y2="111.40" stroke="#333" stroke-width="1.5" />
<rect x="510.40" y="87.60" width="77.40" height="46.90" fill="none" stroke="#3c3c3c" stroke-width="1.45"/>
<text x="549.10" y="77.78" font-size="6.6" text-anchor="middle" fill="#222" stroke="#222" stroke-width="0.32" font-weight="normal" font-style="italic"  textLength="17.2" lengthAdjust="spacingAndGlyphs">VASP</text>
<text x="549.10" y="84.76" font-size="6.0" text-anchor="middle" fill="#222" stroke="#222" stroke-width="0.3" font-weight="normal" font-style="normal"  textLength="76" lengthAdjust="spacingAndGlyphs">(tumor metastasis promotion)</text>
<polygon points="595.50,101.90 671.50,100.80 671.50,120.00 595.50,118.50" fill="#e4e4e4"/>
<rect x="623.55" y="105.80" width="1.70" height="5.60" fill="#4a6bd6" />
<rect x="627.35" y="89.20" width="1.70" height="22.20" fill="#4a6bd6" />
<rect x="629.95" y="99.30" width="1.70" height="12.10" fill="#4a6bd6" />
<rect x="623.55" y="111.40" width="1.70" height="8.60" fill="#f2604a" />
<rect x="627.35" y="111.40" width="1.70" height="21.90" fill="#f2604a" />
<rect x="629.95" y="111.40" width="1.70" height="15.10" fill="#f2604a" />
<rect x="651.45" y="111.40" width="1.70" height="2.30" fill="#f2604a" />
<rect x="654.45" y="111.40" width="1.70" height="2.60" fill="#f2604a" />
<rect x="657.85" y="111.40" width="1.70" height="3.50" fill="#f2604a" />
<rect x="663.25" y="111.40" width="1.70" height="14.30" fill="#f2604a" />
<line x1="594.40" y1="111.40" x2="672.20" y2="111.40" stroke="#333" stroke-width="1.5" />
<rect x="594.40" y="87.60" width="77.80" height="46.90" fill="none" stroke="#3c3c3c" stroke-width="1.45"/>
<text x="633.30" y="77.78" font-size="6.6" text-anchor="middle" fill="#222" stroke="#222" stroke-width="0.32" font-weight="normal" font-style="italic"  textLength="26.4" lengthAdjust="spacingAndGlyphs">MAP2K7</text>
<text x="633.30" y="84.76" font-size="6.0" text-anchor="middle" fill="#222" stroke="#222" stroke-width="0.3" font-weight="normal" font-style="normal"  textLength="72.7" lengthAdjust="spacingAndGlyphs">(stress response, apoptosis)</text>
<text x="341.50" y="91.76" font-size="6" text-anchor="middle" fill="#222" stroke="#222" stroke-width="0.3" font-weight="normal" font-style="normal" >1</text>
<text x="341.50" y="113.56" font-size="6" text-anchor="middle" fill="#222" stroke="#222" stroke-width="0.3" font-weight="normal" font-style="normal" >0</text>
<text x="341.50" y="136.16" font-size="6" text-anchor="middle" fill="#222" stroke="#222" stroke-width="0.3" font-weight="normal" font-style="normal" >1</text>
<text x="675.50" y="92.26" font-size="6" text-anchor="middle" fill="#222" stroke="#222" stroke-width="0.3" font-weight="normal" font-style="normal" >5</text>
<text x="675.50" y="113.56" font-size="6" text-anchor="middle" fill="#222" stroke="#222" stroke-width="0.3" font-weight="normal" font-style="normal" >0</text>
<text x="675.50" y="136.66" font-size="6" text-anchor="middle" fill="#222" stroke="#222" stroke-width="0.3" font-weight="normal" font-style="normal" >5</text>
<text x="300.80" y="101.47" font-size="6.3" text-anchor="start" fill="#4a6bd6" stroke="#4a6bd6" stroke-width="0.1" font-weight="bold" font-style="normal"  textLength="27.8" lengthAdjust="spacingAndGlyphs">HEK293T</text>
<text x="300.80" y="126.27" font-size="6.3" text-anchor="start" fill="#f2604a" stroke="#f2604a" stroke-width="0.1" font-weight="bold" font-style="normal"  textLength="15.4" lengthAdjust="spacingAndGlyphs">HeLa</text>
<text transform="translate(337.76,76.20) rotate(-90)" font-size="6.0" text-anchor="middle" fill="#222" stroke="#222" stroke-width="0.3" font-weight="normal" font-style="normal">modification stoichiometry</text>
<text transform="translate(683.77,80.50) rotate(-90)" font-size="6.3" text-anchor="middle" fill="#222" stroke="#222" stroke-width="0.3" font-weight="normal" font-style="normal">log<tspan font-size="4" dy="1.5">10</tspan><tspan dy="-1.5"> (sequencing depth)</tspan></text>
<text x="346.00" y="141.83" font-size="6.2" text-anchor="start" fill="#222" stroke="#222" stroke-width="0.3" font-weight="normal" font-style="normal" >TSS</text>
<text x="423.00" y="141.83" font-size="6.2" text-anchor="end" fill="#222" stroke="#222" stroke-width="0.3" font-weight="normal" font-style="normal" >TES</text>
<text x="428.00" y="141.83" font-size="6.2" text-anchor="start" fill="#222" stroke="#222" stroke-width="0.3" font-weight="normal" font-style="normal" >TSS</text>
<text x="505.20" y="141.83" font-size="6.2" text-anchor="end" fill="#222" stroke="#222" stroke-width="0.3" font-weight="normal" font-style="normal" >TES</text>
<text x="510.90" y="141.83" font-size="6.2" text-anchor="start" fill="#222" stroke="#222" stroke-width="0.3" font-weight="normal" font-style="normal" >TSS</text>
<text x="587.80" y="141.83" font-size="6.2" text-anchor="end" fill="#222" stroke="#222" stroke-width="0.3" font-weight="normal" font-style="normal" >TES</text>
<text x="594.90" y="141.83" font-size="6.2" text-anchor="start" fill="#222" stroke="#222" stroke-width="0.3" font-weight="normal" font-style="normal" >TSS</text>
<text x="672.20" y="141.83" font-size="6.2" text-anchor="end" fill="#222" stroke="#222" stroke-width="0.3" font-weight="normal" font-style="normal" >TES</text>
<text x="351.00" y="148.07" font-size="5.2" text-anchor="middle" fill="#222" stroke="#222" stroke-width="0.3" font-weight="normal" font-style="normal"  textLength="50.5" lengthAdjust="spacingAndGlyphs">(transcription start site)</text>
<text x="416.90" y="148.07" font-size="5.2" text-anchor="middle" fill="#222" stroke="#222" stroke-width="0.3" font-weight="normal" font-style="normal"  textLength="46.8" lengthAdjust="spacingAndGlyphs">(transcription end site)</text>
<text x="1.00" y="161.50" font-size="8.5" text-anchor="start" fill="#222" stroke="#222" stroke-width="0.2" font-weight="bold" font-style="normal" >d</text>
<rect x="16.20" y="173.00" width="67.40" height="156.40" fill="none" stroke="#3c3c3c" stroke-width="1.45"/>
<rect x="20.50" y="196.10" width="17.30" height="133.30" fill="#7a7a7a" stroke="#222" stroke-width="0.9"/>
<rect x="20.50" y="183.40" width="17.30" height="12.70" fill="#e23b2e" stroke="#222" stroke-width="0.9"/>
<text x="29.15" y="192.02" font-size="5.6" text-anchor="middle" fill="#fff" stroke="#fff" stroke-width="0.2" font-weight="bold" font-style="normal" >8.7%</text>
<rect x="62.30" y="211.58" width="17.30" height="117.82" fill="#7a7a7a" stroke="#222" stroke-width="0.9"/>
<rect x="62.30" y="183.40" width="17.30" height="28.18" fill="#e23b2e" stroke="#222" stroke-width="0.9"/>
<text x="70.95" y="200.32" font-size="5.6" text-anchor="middle" fill="#fff" stroke="#fff" stroke-width="0.2" font-weight="bold" font-style="normal" >19.3%</text>
<text x="49.60" y="180.78" font-size="6.6" text-anchor="middle" fill="#e23b2e" stroke="#e23b2e" stroke-width="0.4" font-weight="normal" font-style="normal"  textLength="37.6" lengthAdjust="spacingAndGlyphs">non-DRACH</text>
<text x="49.70" y="258.57" font-size="6.3" text-anchor="middle" fill="#9a9a9a" stroke="#9a9a9a" stroke-width="0.2" font-weight="bold" font-style="normal" >DRACH</text>
<text x="14.40" y="186.09" font-size="5.8" text-anchor="end" fill="#222" stroke="#222" stroke-width="0.3" font-weight="normal" font-style="normal" >100</text>
<text x="13.80" y="258.99" font-size="5.8" text-anchor="end" fill="#222" stroke="#222" stroke-width="0.3" font-weight="normal" font-style="normal" >50</text>
<text x="13.80" y="331.89" font-size="5.8" text-anchor="end" fill="#222" stroke="#222" stroke-width="0.3" font-weight="normal" font-style="normal" >0</text>
<text transform="translate(5.53,256.00) rotate(-90)" font-size="6.2" text-anchor="middle" fill="#222" stroke="#222" stroke-width="0.3" font-weight="normal" font-style="normal" textLength="59" lengthAdjust="spacingAndGlyphs">relative fraction (%)</text>
<text x="30.00" y="338.23" font-size="6.2" text-anchor="middle" fill="#222" stroke="#222" stroke-width="0.3" font-weight="normal" font-style="normal" >static</text>
<text x="70.60" y="338.23" font-size="6.2" text-anchor="middle" fill="#222" stroke="#222" stroke-width="0.3" font-weight="normal" font-style="normal" >differential</text>
<line x1="83.60" y1="197.70" x2="92.00" y2="197.70" stroke="#333" stroke-width="1" />
<polyline points="96,173.3 92,173.3 92,328.9 96,328.9" fill="none" stroke="#333" stroke-width="1"/>
<polygon points="109.30,190.70 126.00,187.00 175.00,185.00 175.00,203.00 126.00,201.70 109.30,198.30" fill="#e4e4e4"/>
<rect x="126.85" y="180.30" width="1.70" height="26.40" fill="#7a7a7a" />
<rect x="132.75" y="180.30" width="1.70" height="24.00" fill="#7a7a7a" />
<rect x="134.65" y="184.00" width="1.70" height="17.50" fill="#7a7a7a" />
<rect x="136.15" y="183.00" width="1.70" height="19.30" fill="#7a7a7a" />
<rect x="137.65" y="182.30" width="1.70" height="19.20" fill="#7a7a7a" />
<rect x="139.15" y="184.30" width="1.70" height="16.70" fill="#7a7a7a" />
<rect x="144.45" y="186.30" width="1.70" height="16.70" fill="#7a7a7a" />
<rect x="156.65" y="181.00" width="1.70" height="25.00" fill="#7a7a7a" />
<rect x="158.15" y="179.30" width="1.70" height="27.70" fill="#7a7a7a" />
<rect x="159.65" y="180.50" width="1.70" height="24.50" fill="#7a7a7a" />
<rect x="170.45" y="180.00" width="1.70" height="28.30" fill="#7a7a7a" />
<rect x="172.65" y="183.30" width="1.70" height="19.70" fill="#7a7a7a" />
<rect x="173.95" y="184.00" width="1.70" height="18.00" fill="#7a7a7a" />
<rect x="131.70" y="189.70" width="2.00" height="4.60" fill="#e23b2e" />
<rect x="143.00" y="190.30" width="2.00" height="4.00" fill="#e23b2e" />
<rect x="153.70" y="191.70" width="2.00" height="2.60" fill="#e23b2e" />
<line x1="108.40" y1="194.30" x2="175.90" y2="194.30" stroke="#333" stroke-width="1.3" />
<rect x="108.40" y="173.50" width="67.50" height="40.70" fill="none" stroke="#3c3c3c" stroke-width="1.45"/>
<text x="103.70" y="176.29" font-size="5.8" text-anchor="middle" fill="#222" stroke="#222" stroke-width="0.3" font-weight="normal" font-style="normal" >1</text>
<text x="103.70" y="196.39" font-size="5.8" text-anchor="middle" fill="#222" stroke="#222" stroke-width="0.3" font-weight="normal" font-style="normal" >0</text>
<text x="103.70" y="214.79" font-size="5.8" text-anchor="middle" fill="#222" stroke="#222" stroke-width="0.3" font-weight="normal" font-style="normal" >1</text>
<text x="180.20" y="175.89" font-size="5.8" text-anchor="middle" fill="#222" stroke="#222" stroke-width="0.3" font-weight="normal" font-style="normal" >5</text>
<text x="180.20" y="196.39" font-size="5.8" text-anchor="middle" fill="#222" stroke="#222" stroke-width="0.3" font-weight="normal" font-style="normal" >0</text>
<text x="180.20" y="214.79" font-size="5.8" text-anchor="middle" fill="#222" stroke="#222" stroke-width="0.3" font-weight="normal" font-style="normal" >5</text>
<text x="140.40" y="166.27" font-size="5.2" text-anchor="middle" fill="#222" stroke="#222" stroke-width="0.3" font-weight="normal" font-style="italic" >TRIM8</text>
<text x="140.40" y="171.86" font-size="4.6" text-anchor="middle" fill="#222" stroke="#222" stroke-width="0.22" font-weight="normal" font-style="normal" >(E3 ubiquitin ligase)</text>
<rect x="109.30" y="244.70" width="11.40" height="11.60" fill="#e4e4e4" />
<rect x="120.70" y="246.00" width="10.30" height="9.30" fill="#e4e4e4" />
<rect x="131.00" y="244.00" width="44.00" height="12.70" fill="#e4e4e4" />
<rect x="145.15" y="240.00" width="1.70" height="26.00" fill="#7a7a7a" />
<rect x="148.15" y="237.00" width="1.70" height="27.70" fill="#7a7a7a" />
<rect x="151.15" y="241.00" width="1.70" height="20.30" fill="#7a7a7a" />
<rect x="157.15" y="241.00" width="1.70" height="20.00" fill="#7a7a7a" />
<rect x="158.65" y="244.70" width="1.70" height="14.60" fill="#7a7a7a" />
<rect x="166.15" y="238.00" width="1.70" height="24.90" fill="#7a7a7a" />
<rect x="168.85" y="238.00" width="1.70" height="26.70" fill="#7a7a7a" />
<rect x="152.30" y="247.30" width="2.00" height="6.30" fill="#e23b2e" />
<rect x="155.00" y="251.00" width="2.00" height="5.30" fill="#e23b2e" />
<rect x="166.30" y="251.00" width="2.00" height="3.00" fill="#e23b2e" />
<rect x="169.70" y="246.00" width="2.00" height="5.30" fill="#e23b2e" />
<line x1="108.40" y1="251.60" x2="175.90" y2="251.60" stroke="#333" stroke-width="1.3" />
<rect x="108.40" y="230.70" width="67.50" height="40.50" fill="none" stroke="#3c3c3c" stroke-width="1.45"/>
<text x="103.70" y="233.49" font-size="5.8" text-anchor="middle" fill="#222" stroke="#222" stroke-width="0.3" font-weight="normal" font-style="normal" >1</text>
<text x="103.70" y="253.69" font-size="5.8" text-anchor="middle" fill="#222" stroke="#222" stroke-width="0.3" font-weight="normal" font-style="normal" >0</text>
<text x="103.70" y="271.79" font-size="5.8" text-anchor="middle" fill="#222" stroke="#222" stroke-width="0.3" font-weight="normal" font-style="normal" >1</text>
<text x="180.20" y="233.09" font-size="5.8" text-anchor="middle" fill="#222" stroke="#222" stroke-width="0.3" font-weight="normal" font-style="normal" >5</text>
<text x="180.20" y="253.69" font-size="5.8" text-anchor="middle" fill="#222" stroke="#222" stroke-width="0.3" font-weight="normal" font-style="normal" >0</text>
<text x="180.20" y="271.79" font-size="5.8" text-anchor="middle" fill="#222" stroke="#222" stroke-width="0.3" font-weight="normal" font-style="normal" >5</text>
<text x="140.40" y="223.47" font-size="5.2" text-anchor="middle" fill="#222" stroke="#222" stroke-width="0.3" font-weight="normal" font-style="italic" >ENGASE</text>
<text x="140.40" y="229.06" font-size="4.6" text-anchor="middle" fill="#222" stroke="#222" stroke-width="0.22" font-weight="normal" font-style="normal" >(peptide hydrolysis)</text>
<rect x="109.30" y="304.00" width="65.70" height="10.70" fill="#e4e4e4" />
<rect x="114.45" y="303.70" width="1.70" height="8.90" fill="#7a7a7a" />
<rect x="128.05" y="292.00" width="1.70" height="32.30" fill="#7a7a7a" />
<rect x="129.45" y="296.30" width="1.70" height="26.00" fill="#7a7a7a" />
<rect x="133.15" y="306.70" width="1.70" height="8.00" fill="#7a7a7a" />
<rect x="135.15" y="308.00" width="1.70" height="4.00" fill="#7a7a7a" />
<rect x="137.85" y="297.00" width="1.70" height="24.70" fill="#7a7a7a" />
<rect x="140.45" y="291.70" width="1.70" height="36.00" fill="#7a7a7a" />
<rect x="142.15" y="293.70" width="1.70" height="28.00" fill="#7a7a7a" />
<rect x="145.15" y="301.00" width="1.70" height="18.00" fill="#7a7a7a" />
<rect x="146.75" y="292.00" width="1.70" height="35.70" fill="#7a7a7a" />
<rect x="149.85" y="302.30" width="1.70" height="14.70" fill="#7a7a7a" />
<rect x="152.70" y="289.90" width="1.20" height="39.50" fill="#7a7a7a" />
<rect x="156.45" y="303.70" width="1.70" height="10.00" fill="#7a7a7a" />
<rect x="159.15" y="293.00" width="1.70" height="36.00" fill="#7a7a7a" />
<rect x="162.45" y="307.00" width="1.70" height="4.00" fill="#7a7a7a" />
<rect x="117.90" y="306.00" width="2.00" height="3.80" fill="#e23b2e" />
<rect x="140.70" y="305.00" width="2.00" height="8.00" fill="#e23b2e" />
<rect x="152.60" y="303.70" width="2.00" height="6.10" fill="#e23b2e" />
<rect x="166.50" y="309.80" width="3.00" height="7.60" fill="#e23b2e" />
<line x1="108.40" y1="309.80" x2="175.90" y2="309.80" stroke="#333" stroke-width="1.3" />
<rect x="108.40" y="289.70" width="67.50" height="39.70" fill="none" stroke="#3c3c3c" stroke-width="1.45"/>
<text x="103.70" y="292.49" font-size="5.8" text-anchor="middle" fill="#222" stroke="#222" stroke-width="0.3" font-weight="normal" font-style="normal" >1</text>
<text x="103.70" y="311.89" font-size="5.8" text-anchor="middle" fill="#222" stroke="#222" stroke-width="0.3" font-weight="normal" font-style="normal" >0</text>
<text x="103.70" y="329.99" font-size="5.8" text-anchor="middle" fill="#222" stroke="#222" stroke-width="0.3" font-weight="normal" font-style="normal" >1</text>
<text x="180.20" y="292.09" font-size="5.8" text-anchor="middle" fill="#222" stroke="#222" stroke-width="0.3" font-weight="normal" font-style="normal" >5</text>
<text x="180.20" y="311.89" font-size="5.8" text-anchor="middle" fill="#222" stroke="#222" stroke-width="0.3" font-weight="normal" font-style="normal" >0</text>
<text x="180.20" y="329.99" font-size="5.8" text-anchor="middle" fill="#222" stroke="#222" stroke-width="0.3" font-weight="normal" font-style="normal" >5</text>
<text x="140.40" y="282.47" font-size="5.2" text-anchor="middle" fill="#222" stroke="#222" stroke-width="0.3" font-weight="normal" font-style="italic" >PTGER2</text>
<text x="140.40" y="288.06" font-size="4.6" text-anchor="middle" fill="#222" stroke="#222" stroke-width="0.22" font-weight="normal" font-style="normal" >(prostaglandin receptor)</text>
<text transform="translate(98.36,253.40) rotate(-90)" font-size="6.0" text-anchor="middle" fill="#222" stroke="#222" stroke-width="0.3" font-weight="normal" font-style="normal" textLength="68.3" lengthAdjust="spacingAndGlyphs">modification stoichiometry</text>
<text transform="translate(187.95,250.20) rotate(-90)" font-size="5.7" text-anchor="middle" fill="#222" stroke="#222" stroke-width="0.3" font-weight="normal" font-style="normal">log<tspan font-size="3.9" dy="1.3">10</tspan><tspan dy="-1.3"> (sequencing depth)</tspan></text>
<text x="108.40" y="337.46" font-size="6" text-anchor="start" fill="#222" stroke="#222" stroke-width="0.3" font-weight="normal" font-style="normal" >TSS</text>
<text x="176.90" y="337.46" font-size="6" text-anchor="end" fill="#222" stroke="#222" stroke-width="0.3" font-weight="normal" font-style="normal" >TES</text>
<text x="113.00" y="342.16" font-size="4.9" text-anchor="middle" fill="#222" stroke="#222" stroke-width="0.3" font-weight="normal" font-style="normal" >(transcription start site)</text>
<text x="171.30" y="342.16" font-size="4.9" text-anchor="middle" fill="#222" stroke="#222" stroke-width="0.3" font-weight="normal" font-style="normal" >(transcription end site)</text>
<text x="194.50" y="162.00" font-size="8.5" text-anchor="start" fill="#222" stroke="#222" stroke-width="0.2" font-weight="bold" font-style="normal" >e</text>
<rect x="237.30" y="186.00" width="37.40" height="17.00" fill="#e4e4e4" />
<rect x="276.90" y="185.00" width="16.80" height="18.00" fill="#e4e4e4" />
<rect x="293.70" y="189.70" width="8.80" height="8.60" fill="#e4e4e4" />
<rect x="285.35" y="191.00" width="1.70" height="7.00" fill="#f7931e" />
<rect x="286.35" y="188.50" width="1.70" height="12.00" fill="#f7931e" />
<rect x="287.35" y="187.00" width="1.70" height="16.70" fill="#f7931e" />
<rect x="288.35" y="187.50" width="1.70" height="15.50" fill="#f7931e" />
<line x1="236.30" y1="194.40" x2="303.70" y2="194.40" stroke="#333" stroke-width="1.3" />
<rect x="236.30" y="173.90" width="67.40" height="40.50" fill="none" stroke="#3c3c3c" stroke-width="1.45"/>
<text x="270.00" y="166.87" font-size="5.2" text-anchor="middle" fill="#222" stroke="#222" stroke-width="0.3" font-weight="normal" font-style="italic" >TIMELESS</text>
<text x="270.00" y="172.26" font-size="4.6" text-anchor="middle" fill="#222" stroke="#222" stroke-width="0.22" font-weight="normal" font-style="normal" >(circadian rhythm regulation)</text>
<polygon points="308.40,184.30 340.00,183.70 374.20,184.50 374.20,204.50 340.00,205.00 308.40,204.30" fill="#e4e4e4"/>
<rect x="338.45" y="188.00" width="1.70" height="13.70" fill="#f7931e" />
<rect x="349.15" y="179.00" width="1.70" height="31.70" fill="#f7931e" />
<rect x="352.15" y="185.00" width="1.70" height="19.30" fill="#f7931e" />
<line x1="307.40" y1="194.40" x2="375.20" y2="194.40" stroke="#333" stroke-width="1.3" />
<rect x="307.40" y="173.90" width="67.80" height="40.50" fill="none" stroke="#3c3c3c" stroke-width="1.45"/>
<text x="341.30" y="166.87" font-size="5.2" text-anchor="middle" fill="#222" stroke="#222" stroke-width="0.3" font-weight="normal" font-style="italic" >EIF2S3</text>
<text x="341.30" y="172.26" font-size="4.6" text-anchor="middle" fill="#222" stroke="#222" stroke-width="0.22" font-weight="normal" font-style="normal" >(translation initiation factor)</text>
<text x="233.00" y="176.29" font-size="5.8" text-anchor="middle" fill="#222" stroke="#222" stroke-width="0.3" font-weight="normal" font-style="normal" >1</text>
<text x="232.80" y="196.49" font-size="5.8" text-anchor="middle" fill="#222" stroke="#222" stroke-width="0.3" font-weight="normal" font-style="normal" >0</text>
<text x="233.00" y="214.49" font-size="5.8" text-anchor="middle" fill="#222" stroke="#222" stroke-width="0.3" font-weight="normal" font-style="normal" >1</text>
<text x="378.40" y="176.29" font-size="5.8" text-anchor="middle" fill="#222" stroke="#222" stroke-width="0.3" font-weight="normal" font-style="normal" >5</text>
<text x="378.40" y="196.49" font-size="5.8" text-anchor="middle" fill="#222" stroke="#222" stroke-width="0.3" font-weight="normal" font-style="normal" >0</text>
<text x="378.40" y="214.49" font-size="5.8" text-anchor="middle" fill="#222" stroke="#222" stroke-width="0.3" font-weight="normal" font-style="normal" >5</text>
<rect x="237.30" y="244.00" width="10.70" height="16.00" fill="#e4e4e4" />
<rect x="248.00" y="248.00" width="6.70" height="8.70" fill="#e4e4e4" />
<polygon points="254.70,248.60 280.70,248.00 280.70,256.30 254.70,256.00" fill="#e4e4e4"/>
<rect x="280.70" y="244.00" width="22.00" height="16.00" fill="#e4e4e4" />
<rect x="281.85" y="235.30" width="1.70" height="34.00" fill="#f7931e" />
<rect x="285.85" y="238.00" width="1.70" height="29.00" fill="#f7931e" />
<rect x="284.15" y="245.00" width="1.70" height="12.00" fill="#f7931e" />
<rect x="287.15" y="247.00" width="1.70" height="11.00" fill="#f7931e" />
<rect x="288.65" y="249.00" width="1.70" height="6.00" fill="#f7931e" />
<line x1="236.30" y1="252.10" x2="303.70" y2="252.10" stroke="#333" stroke-width="1.3" />
<rect x="236.30" y="231.30" width="67.40" height="40.90" fill="none" stroke="#3c3c3c" stroke-width="1.45"/>
<text x="270.00" y="224.27" font-size="5.2" text-anchor="middle" fill="#222" stroke="#222" stroke-width="0.3" font-weight="normal" font-style="italic" >CEP57</text>
<text x="270.00" y="229.66" font-size="4.6" text-anchor="middle" fill="#222" stroke="#222" stroke-width="0.22" font-weight="normal" font-style="normal" >(centriole duplication)</text>
<rect x="308.40" y="246.00" width="55.30" height="12.70" fill="#e4e4e4" />
<rect x="363.70" y="247.30" width="10.50" height="10.00" fill="#e4e4e4" />
<rect x="319.45" y="248.70" width="1.70" height="7.00" fill="#f7931e" />
<rect x="326.45" y="232.00" width="1.70" height="40.00" fill="#f7931e" />
<rect x="328.45" y="239.30" width="1.70" height="26.70" fill="#f7931e" />
<rect x="329.95" y="241.00" width="1.70" height="23.00" fill="#f7931e" />
<rect x="357.45" y="244.30" width="1.70" height="14.40" fill="#f7931e" />
<rect x="360.85" y="247.30" width="1.70" height="10.30" fill="#f7931e" />
<line x1="307.40" y1="252.10" x2="375.20" y2="252.10" stroke="#333" stroke-width="1.3" />
<rect x="307.40" y="231.30" width="67.80" height="40.90" fill="none" stroke="#3c3c3c" stroke-width="1.45"/>
<text x="341.30" y="224.27" font-size="5.2" text-anchor="middle" fill="#222" stroke="#222" stroke-width="0.3" font-weight="normal" font-style="italic" >APOL2</text>
<text x="341.30" y="229.66" font-size="4.6" text-anchor="middle" fill="#222" stroke="#222" stroke-width="0.22" font-weight="normal" font-style="normal" >(apolipoprotein)</text>
<text x="233.00" y="233.69" font-size="5.8" text-anchor="middle" fill="#222" stroke="#222" stroke-width="0.3" font-weight="normal" font-style="normal" >1</text>
<text x="232.80" y="254.19" font-size="5.8" text-anchor="middle" fill="#222" stroke="#222" stroke-width="0.3" font-weight="normal" font-style="normal" >0</text>
<text x="233.00" y="272.29" font-size="5.8" text-anchor="middle" fill="#222" stroke="#222" stroke-width="0.3" font-weight="normal" font-style="normal" >1</text>
<text x="378.40" y="233.69" font-size="5.8" text-anchor="middle" fill="#222" stroke="#222" stroke-width="0.3" font-weight="normal" font-style="normal" >5</text>
<text x="378.40" y="254.19" font-size="5.8" text-anchor="middle" fill="#222" stroke="#222" stroke-width="0.3" font-weight="normal" font-style="normal" >0</text>
<text x="378.40" y="272.29" font-size="5.8" text-anchor="middle" fill="#222" stroke="#222" stroke-width="0.3" font-weight="normal" font-style="normal" >5</text>
<rect x="237.30" y="305.00" width="27.40" height="11.30" fill="#e4e4e4" />
<rect x="264.70" y="303.00" width="21.30" height="16.00" fill="#e4e4e4" />
<rect x="286.00" y="302.30" width="16.70" height="18.70" fill="#e4e4e4" />
<rect x="242.85" y="291.70" width="1.70" height="38.60" fill="#f7931e" />
<rect x="248.85" y="291.00" width="1.70" height="40.00" fill="#f7931e" />
<rect x="250.15" y="299.00" width="1.70" height="29.30" fill="#f7931e" />
<rect x="252.45" y="292.30" width="1.70" height="38.00" fill="#f7931e" />
<rect x="255.55" y="306.30" width="1.70" height="9.40" fill="#f7931e" />
<rect x="257.85" y="306.30" width="1.70" height="8.00" fill="#f7931e" />
<rect x="265.85" y="302.30" width="1.70" height="18.70" fill="#f7931e" />
<rect x="269.15" y="307.00" width="1.70" height="8.00" fill="#f7931e" />
<rect x="270.15" y="302.30" width="1.70" height="16.70" fill="#f7931e" />
<rect x="271.85" y="302.30" width="1.70" height="17.40" fill="#f7931e" />
<rect x="276.15" y="303.00" width="1.70" height="15.70" fill="#f7931e" />
<rect x="280.15" y="308.30" width="1.70" height="5.40" fill="#f7931e" />
<rect x="288.95" y="301.00" width="1.30" height="19.00" fill="#f7931e" />
<rect x="290.95" y="292.30" width="1.30" height="38.00" fill="#f7931e" />
<rect x="292.85" y="292.30" width="1.30" height="36.70" fill="#f7931e" />
<rect x="294.65" y="295.00" width="1.30" height="35.30" fill="#f7931e" />
<rect x="296.45" y="292.30" width="1.30" height="36.70" fill="#f7931e" />
<rect x="298.00" y="300.70" width="1.20" height="24.60" fill="#f7931e" />
<line x1="236.30" y1="310.80" x2="303.70" y2="310.80" stroke="#333" stroke-width="1.3" />
<rect x="236.30" y="290.30" width="67.40" height="40.70" fill="none" stroke="#3c3c3c" stroke-width="1.45"/>
<text x="270.00" y="283.27" font-size="5.2" text-anchor="middle" fill="#222" stroke="#222" stroke-width="0.3" font-weight="normal" font-style="italic" >NR2F1</text>
<text x="270.00" y="288.66" font-size="4.6" text-anchor="middle" fill="#222" stroke="#222" stroke-width="0.22" font-weight="normal" font-style="normal" >(nuclear hormone receptor)</text>
<rect x="308.40" y="303.70" width="62.60" height="15.00" fill="#e4e4e4" />
<rect x="371.00" y="305.00" width="3.20" height="12.70" fill="#e4e4e4" />
<rect x="312.45" y="305.00" width="1.70" height="11.50" fill="#f7931e" />
<rect x="313.95" y="305.00" width="1.70" height="11.50" fill="#f7931e" />
<rect x="316.15" y="300.00" width="1.70" height="23.00" fill="#f7931e" />
<rect x="318.65" y="308.00" width="1.70" height="6.00" fill="#f7931e" />
<rect x="320.15" y="309.00" width="1.70" height="4.00" fill="#f7931e" />
<rect x="321.65" y="305.00" width="1.70" height="13.00" fill="#f7931e" />
<rect x="323.35" y="291.60" width="1.70" height="38.70" fill="#f7931e" />
<rect x="326.45" y="293.00" width="1.70" height="36.60" fill="#f7931e" />
<rect x="327.95" y="293.00" width="1.70" height="36.00" fill="#f7931e" />
<rect x="329.45" y="300.30" width="1.70" height="21.70" fill="#f7931e" />
<rect x="338.75" y="303.00" width="1.30" height="14.00" fill="#f7931e" />
<rect x="340.15" y="292.00" width="1.70" height="39.00" fill="#f7931e" />
<rect x="341.75" y="291.00" width="1.70" height="40.00" fill="#f7931e" />
<rect x="343.35" y="294.00" width="1.70" height="36.00" fill="#f7931e" />
<rect x="346.15" y="292.00" width="1.70" height="39.00" fill="#f7931e" />
<rect x="347.75" y="293.00" width="1.70" height="37.00" fill="#f7931e" />
<rect x="349.35" y="294.00" width="1.70" height="35.00" fill="#f7931e" />
<rect x="351.10" y="296.00" width="1.40" height="30.00" fill="#f7931e" />
<rect x="352.60" y="299.00" width="1.40" height="24.00" fill="#f7931e" />
<rect x="354.85" y="299.00" width="1.30" height="21.00" fill="#f7931e" />
<line x1="307.40" y1="310.80" x2="375.20" y2="310.80" stroke="#333" stroke-width="1.3" />
<rect x="307.40" y="290.30" width="67.80" height="40.70" fill="none" stroke="#3c3c3c" stroke-width="1.45"/>
<text x="341.30" y="283.27" font-size="5.2" text-anchor="middle" fill="#222" stroke="#222" stroke-width="0.3" font-weight="normal" font-style="italic" >BMP2</text>
<text x="341.30" y="288.66" font-size="4.6" text-anchor="middle" fill="#222" stroke="#222" stroke-width="0.22" font-weight="normal" font-style="normal" >(chondrogenesis &amp; osteogenesis)</text>
<text x="233.00" y="292.69" font-size="5.8" text-anchor="middle" fill="#222" stroke="#222" stroke-width="0.3" font-weight="normal" font-style="normal" >1</text>
<text x="232.80" y="312.89" font-size="5.8" text-anchor="middle" fill="#222" stroke="#222" stroke-width="0.3" font-weight="normal" font-style="normal" >0</text>
<text x="233.00" y="331.09" font-size="5.8" text-anchor="middle" fill="#222" stroke="#222" stroke-width="0.3" font-weight="normal" font-style="normal" >1</text>
<text x="378.40" y="292.69" font-size="5.8" text-anchor="middle" fill="#222" stroke="#222" stroke-width="0.3" font-weight="normal" font-style="normal" >5</text>
<text x="378.40" y="312.89" font-size="5.8" text-anchor="middle" fill="#222" stroke="#222" stroke-width="0.3" font-weight="normal" font-style="normal" >0</text>
<text x="378.40" y="331.09" font-size="5.8" text-anchor="middle" fill="#222" stroke="#222" stroke-width="0.3" font-weight="normal" font-style="normal" >5</text>
<rect x="510.30" y="188.30" width="6.00" height="11.40" fill="#e4e4e4" />
<rect x="516.30" y="186.70" width="41.40" height="15.30" fill="#e4e4e4" />
<rect x="557.70" y="188.00" width="18.30" height="12.60" fill="#e4e4e4" />
<rect x="515.85" y="194.40" width="1.70" height="6.60" fill="#7055e0" />
<rect x="570.15" y="194.40" width="1.70" height="15.30" fill="#7055e0" />
<rect x="571.65" y="194.40" width="1.70" height="5.60" fill="#7055e0" />
<rect x="549.15" y="189.40" width="1.70" height="11.20" fill="#f7931e" />
<line x1="509.30" y1="194.40" x2="576.80" y2="194.40" stroke="#333" stroke-width="1.3" />
<rect x="509.30" y="173.90" width="67.50" height="40.50" fill="none" stroke="#3c3c3c" stroke-width="1.45"/>
<text x="543.05" y="166.87" font-size="5.2" text-anchor="middle" fill="#222" stroke="#222" stroke-width="0.3" font-weight="normal" font-style="italic" >DCAF11</text>
<text x="543.05" y="172.26" font-size="4.6" text-anchor="middle" fill="#222" stroke="#222" stroke-width="0.22" font-weight="normal" font-style="normal" >(E3 ligase substrate adaptor)</text>
<rect x="581.30" y="186.30" width="35.40" height="14.30" fill="#e4e4e4" />
<rect x="616.70" y="189.00" width="19.00" height="9.30" fill="#e4e4e4" />
<rect x="635.70" y="186.00" width="11.80" height="15.00" fill="#e4e4e4" />
<rect x="586.75" y="194.30" width="1.70" height="4.40" fill="#7055e0" />
<rect x="592.85" y="194.30" width="1.70" height="20.00" fill="#7055e0" />
<rect x="646.15" y="193.00" width="1.70" height="6.00" fill="#f7931e" />
<line x1="580.40" y1="194.40" x2="648.40" y2="194.40" stroke="#333" stroke-width="1.3" />
<rect x="580.40" y="173.90" width="68.00" height="40.50" fill="none" stroke="#3c3c3c" stroke-width="1.45"/>
<text x="614.40" y="166.87" font-size="5.2" text-anchor="middle" fill="#222" stroke="#222" stroke-width="0.3" font-weight="normal" font-style="italic" >BCAM</text>
<text x="614.40" y="172.26" font-size="4.6" text-anchor="middle" fill="#222" stroke="#222" stroke-width="0.22" font-weight="normal" font-style="normal" >(cell adhesion)</text>
<text x="506.00" y="176.29" font-size="5.8" text-anchor="middle" fill="#222" stroke="#222" stroke-width="0.3" font-weight="normal" font-style="normal" >1</text>
<text x="505.80" y="196.49" font-size="5.8" text-anchor="middle" fill="#222" stroke="#222" stroke-width="0.3" font-weight="normal" font-style="normal" >0</text>
<text x="506.00" y="214.49" font-size="5.8" text-anchor="middle" fill="#222" stroke="#222" stroke-width="0.3" font-weight="normal" font-style="normal" >1</text>
<text x="651.60" y="176.29" font-size="5.8" text-anchor="middle" fill="#222" stroke="#222" stroke-width="0.3" font-weight="normal" font-style="normal" >5</text>
<text x="651.60" y="196.49" font-size="5.8" text-anchor="middle" fill="#222" stroke="#222" stroke-width="0.3" font-weight="normal" font-style="normal" >0</text>
<text x="651.60" y="214.49" font-size="5.8" text-anchor="middle" fill="#222" stroke="#222" stroke-width="0.3" font-weight="normal" font-style="normal" >5</text>
<polygon points="510.30,248.00 576.00,246.00 576.00,258.00 510.30,255.30" fill="#e4e4e4"/>
<rect x="538.85" y="248.00" width="1.70" height="4.10" fill="#7055e0" />
<rect x="542.45" y="249.30" width="1.70" height="2.80" fill="#7055e0" />
<rect x="549.85" y="252.10" width="1.70" height="6.60" fill="#7055e0" />
<rect x="554.45" y="249.00" width="1.70" height="3.10" fill="#7055e0" />
<rect x="560.55" y="252.10" width="1.70" height="4.20" fill="#7055e0" />
<rect x="546.85" y="250.00" width="1.70" height="6.00" fill="#f7931e" />
<rect x="548.15" y="247.00" width="1.70" height="7.50" fill="#f7931e" />
<rect x="552.85" y="247.80" width="1.70" height="8.70" fill="#f7931e" />
<line x1="509.30" y1="252.10" x2="576.80" y2="252.10" stroke="#333" stroke-width="1.3" />
<rect x="509.30" y="231.30" width="67.50" height="40.90" fill="none" stroke="#3c3c3c" stroke-width="1.45"/>
<text x="543.05" y="224.27" font-size="5.2" text-anchor="middle" fill="#222" stroke="#222" stroke-width="0.3" font-weight="normal" font-style="italic" >TET3</text>
<text x="543.05" y="229.66" font-size="4.6" text-anchor="middle" fill="#222" stroke="#222" stroke-width="0.22" font-weight="normal" font-style="normal" >(DNA demethylation)</text>
<polygon points="581.30,247.70 630.00,245.00 645.00,244.00 647.50,244.00 647.50,259.50 645.00,259.50 630.00,259.30 581.30,256.70" fill="#e4e4e4"/>
<rect x="594.15" y="252.10" width="1.70" height="11.90" fill="#7055e0" />
<rect x="622.45" y="249.00" width="1.70" height="3.10" fill="#7055e0" />
<rect x="627.15" y="252.10" width="1.70" height="2.60" fill="#7055e0" />
<rect x="639.45" y="250.00" width="1.70" height="2.10" fill="#7055e0" />
<rect x="640.65" y="249.00" width="1.70" height="3.10" fill="#7055e0" />
<rect x="641.85" y="250.00" width="1.70" height="2.10" fill="#7055e0" />
<rect x="606.15" y="249.00" width="1.70" height="5.70" fill="#f7931e" />
<rect x="617.15" y="247.30" width="1.70" height="8.00" fill="#f7931e" />
<rect x="625.15" y="246.00" width="1.70" height="13.70" fill="#f7931e" />
<rect x="628.15" y="248.70" width="1.70" height="7.30" fill="#f7931e" />
<line x1="580.40" y1="252.10" x2="648.40" y2="252.10" stroke="#333" stroke-width="1.3" />
<rect x="580.40" y="231.30" width="68.00" height="40.90" fill="none" stroke="#3c3c3c" stroke-width="1.45"/>
<text x="614.40" y="224.27" font-size="5.2" text-anchor="middle" fill="#222" stroke="#222" stroke-width="0.3" font-weight="normal" font-style="italic" >PRR11</text>
<text x="614.40" y="229.66" font-size="4.6" text-anchor="middle" fill="#222" stroke="#222" stroke-width="0.22" font-weight="normal" font-style="normal" >(EGFR signalling pathway)</text>
<text x="506.00" y="233.69" font-size="5.8" text-anchor="middle" fill="#222" stroke="#222" stroke-width="0.3" font-weight="normal" font-style="normal" >1</text>
<text x="505.80" y="254.19" font-size="5.8" text-anchor="middle" fill="#222" stroke="#222" stroke-width="0.3" font-weight="normal" font-style="normal" >0</text>
<text x="506.00" y="272.29" font-size="5.8" text-anchor="middle" fill="#222" stroke="#222" stroke-width="0.3" font-weight="normal" font-style="normal" >1</text>
<text x="651.60" y="233.69" font-size="5.8" text-anchor="middle" fill="#222" stroke="#222" stroke-width="0.3" font-weight="normal" font-style="normal" >5</text>
<text x="651.60" y="254.19" font-size="5.8" text-anchor="middle" fill="#222" stroke="#222" stroke-width="0.3" font-weight="normal" font-style="normal" >0</text>
<text x="651.60" y="272.29" font-size="5.8" text-anchor="middle" fill="#222" stroke="#222" stroke-width="0.3" font-weight="normal" font-style="normal" >5</text>
<rect x="510.30" y="305.00" width="3.40" height="12.70" fill="#e4e4e4" />
<rect x="513.70" y="304.00" width="3.30" height="15.00" fill="#e4e4e4" />
<rect x="517.00" y="303.30" width="59.00" height="16.40" fill="#e4e4e4" />
<rect x="517.75" y="310.80" width="1.70" height="14.90" fill="#7055e0" />
<rect x="522.85" y="310.80" width="1.70" height="3.50" fill="#7055e0" />
<rect x="555.45" y="305.70" width="1.70" height="5.10" fill="#7055e0" />
<rect x="525.15" y="304.00" width="1.70" height="15.00" fill="#f7931e" />
<rect x="529.85" y="305.00" width="1.70" height="11.00" fill="#f7931e" />
<rect x="532.55" y="294.70" width="1.70" height="32.60" fill="#f7931e" />
<rect x="539.05" y="300.00" width="1.70" height="21.00" fill="#f7931e" />
<rect x="542.45" y="309.00" width="1.70" height="4.00" fill="#f7931e" />
<rect x="545.85" y="301.00" width="1.70" height="19.00" fill="#f7931e" />
<rect x="547.75" y="305.70" width="1.70" height="14.30" fill="#f7931e" />
<rect x="549.85" y="299.00" width="1.70" height="26.00" fill="#f7931e" />
<rect x="551.45" y="304.30" width="1.70" height="14.70" fill="#f7931e" />
<rect x="555.15" y="306.30" width="1.70" height="10.00" fill="#f7931e" />
<rect x="557.15" y="308.00" width="1.70" height="5.70" fill="#f7931e" />
<rect x="571.15" y="306.30" width="1.70" height="8.00" fill="#f7931e" />
<rect x="572.15" y="306.70" width="1.70" height="8.00" fill="#f7931e" />
<line x1="509.30" y1="310.80" x2="576.80" y2="310.80" stroke="#333" stroke-width="1.3" />
<rect x="509.30" y="290.30" width="67.50" height="40.70" fill="none" stroke="#3c3c3c" stroke-width="1.45"/>
<text x="543.05" y="283.27" font-size="5.2" text-anchor="middle" fill="#222" stroke="#222" stroke-width="0.3" font-weight="normal" font-style="italic" >NHSL3</text>
<text x="543.05" y="288.66" font-size="4.6" text-anchor="middle" fill="#222" stroke="#222" stroke-width="0.22" font-weight="normal" font-style="normal" >(cell migration regulation)</text>
<rect x="581.30" y="303.70" width="20.70" height="14.00" fill="#e4e4e4" />
<rect x="602.00" y="305.00" width="45.50" height="11.00" fill="#e4e4e4" />
<rect x="581.15" y="310.80" width="1.70" height="3.80" fill="#7055e0" />
<rect x="623.15" y="310.80" width="1.70" height="3.80" fill="#7055e0" />
<rect x="625.15" y="310.80" width="1.70" height="5.80" fill="#7055e0" />
<rect x="629.15" y="310.80" width="1.70" height="7.90" fill="#7055e0" />
<rect x="637.15" y="310.80" width="1.70" height="5.80" fill="#7055e0" />
<rect x="638.65" y="310.80" width="1.70" height="5.80" fill="#7055e0" />
<rect x="645.85" y="310.80" width="1.70" height="6.20" fill="#7055e0" />
<rect x="598.45" y="306.30" width="1.70" height="9.30" fill="#f7931e" />
<rect x="599.85" y="306.30" width="1.70" height="8.70" fill="#f7931e" />
<rect x="602.45" y="306.30" width="1.70" height="8.70" fill="#f7931e" />
<rect x="611.15" y="305.00" width="1.70" height="10.60" fill="#f7931e" />
<rect x="615.15" y="296.30" width="1.70" height="29.70" fill="#f7931e" />
<rect x="642.85" y="304.00" width="1.70" height="12.50" fill="#f7931e" />
<rect x="645.85" y="305.00" width="1.70" height="17.70" fill="#f7931e" />
<line x1="580.40" y1="310.80" x2="648.40" y2="310.80" stroke="#333" stroke-width="1.3" />
<rect x="580.40" y="290.30" width="68.00" height="40.70" fill="none" stroke="#3c3c3c" stroke-width="1.45"/>
<text x="614.40" y="283.27" font-size="5.2" text-anchor="middle" fill="#222" stroke="#222" stroke-width="0.3" font-weight="normal" font-style="italic" >STAU2</text>
<text x="614.40" y="288.66" font-size="4.6" text-anchor="middle" fill="#222" stroke="#222" stroke-width="0.22" font-weight="normal" font-style="normal" >(mRNA trafficking regulation)</text>
<text x="506.00" y="292.69" font-size="5.8" text-anchor="middle" fill="#222" stroke="#222" stroke-width="0.3" font-weight="normal" font-style="normal" >1</text>
<text x="505.80" y="312.89" font-size="5.8" text-anchor="middle" fill="#222" stroke="#222" stroke-width="0.3" font-weight="normal" font-style="normal" >0</text>
<text x="506.00" y="331.09" font-size="5.8" text-anchor="middle" fill="#222" stroke="#222" stroke-width="0.3" font-weight="normal" font-style="normal" >1</text>
<text x="651.60" y="292.69" font-size="5.8" text-anchor="middle" fill="#222" stroke="#222" stroke-width="0.3" font-weight="normal" font-style="normal" >5</text>
<text x="651.60" y="312.89" font-size="5.8" text-anchor="middle" fill="#222" stroke="#222" stroke-width="0.3" font-weight="normal" font-style="normal" >0</text>
<text x="651.60" y="331.09" font-size="5.8" text-anchor="middle" fill="#222" stroke="#222" stroke-width="0.3" font-weight="normal" font-style="normal" >5</text>
<text x="196.40" y="185.98" font-size="5.5" text-anchor="start" fill="#222" stroke="#222" stroke-width="0.2" font-weight="bold" font-style="normal" >HEK293T</text>
<text x="196.40" y="206.18" font-size="5.5" text-anchor="start" fill="#222" stroke="#222" stroke-width="0.2" font-weight="bold" font-style="normal" >HeLa</text>
<text x="685.00" y="185.98" font-size="5.5" text-anchor="end" fill="#222" stroke="#222" stroke-width="0.2" font-weight="bold" font-style="normal" >HEK293T</text>
<text x="685.00" y="206.18" font-size="5.5" text-anchor="end" fill="#222" stroke="#222" stroke-width="0.2" font-weight="bold" font-style="normal" >HeLa</text>
<text x="196.40" y="244.78" font-size="5.5" text-anchor="start" fill="#222" stroke="#222" stroke-width="0.2" font-weight="bold" font-style="normal" >HEK293T</text>
<text x="196.40" y="264.38" font-size="5.5" text-anchor="start" fill="#222" stroke="#222" stroke-width="0.2" font-weight="bold" font-style="normal" >HeLa</text>
<text x="685.00" y="244.78" font-size="5.5" text-anchor="end" fill="#222" stroke="#222" stroke-width="0.2" font-weight="bold" font-style="normal" >HEK293T</text>
<text x="685.00" y="264.38" font-size="5.5" text-anchor="end" fill="#222" stroke="#222" stroke-width="0.2" font-weight="bold" font-style="normal" >HeLa</text>
<text x="196.40" y="301.18" font-size="5.5" text-anchor="start" fill="#222" stroke="#222" stroke-width="0.2" font-weight="bold" font-style="normal" >HEK293T</text>
<text x="196.40" y="323.18" font-size="5.5" text-anchor="start" fill="#222" stroke="#222" stroke-width="0.2" font-weight="bold" font-style="normal" >HeLa</text>
<text x="685.00" y="301.18" font-size="5.5" text-anchor="end" fill="#222" stroke="#222" stroke-width="0.2" font-weight="bold" font-style="normal" >HEK293T</text>
<text x="685.00" y="323.18" font-size="5.5" text-anchor="end" fill="#222" stroke="#222" stroke-width="0.2" font-weight="bold" font-style="normal" >HeLa</text>
<text transform="translate(229.26,252.20) rotate(-90)" font-size="6.0" text-anchor="middle" fill="#222" stroke="#222" stroke-width="0.3" font-weight="normal" font-style="normal" textLength="68.3" lengthAdjust="spacingAndGlyphs">modification stoichiometry</text>
<text transform="translate(385.85,251.20) rotate(-90)" font-size="5.7" text-anchor="middle" fill="#222" stroke="#222" stroke-width="0.3" font-weight="normal" font-style="normal">log<tspan font-size="3.9" dy="1.3">10</tspan><tspan dy="-1.3"> (sequencing depth)</tspan></text>
<text transform="translate(502.96,252.20) rotate(-90)" font-size="6.0" text-anchor="middle" fill="#222" stroke="#222" stroke-width="0.3" font-weight="normal" font-style="normal" textLength="68.3" lengthAdjust="spacingAndGlyphs">modification stoichiometry</text>
<text transform="translate(658.75,251.20) rotate(-90)" font-size="5.7" text-anchor="middle" fill="#222" stroke="#222" stroke-width="0.3" font-weight="normal" font-style="normal">log<tspan font-size="3.9" dy="1.3">10</tspan><tspan dy="-1.3"> (sequencing depth)</tspan></text>
<text x="236.30" y="337.96" font-size="6" text-anchor="start" fill="#222" stroke="#222" stroke-width="0.3" font-weight="normal" font-style="normal" >TSS</text>
<text x="303.70" y="337.96" font-size="6" text-anchor="end" fill="#222" stroke="#222" stroke-width="0.3" font-weight="normal" font-style="normal" >TES</text>
<text x="307.40" y="337.96" font-size="6" text-anchor="start" fill="#222" stroke="#222" stroke-width="0.3" font-weight="normal" font-style="normal" >TSS</text>
<text x="375.20" y="337.96" font-size="6" text-anchor="end" fill="#222" stroke="#222" stroke-width="0.3" font-weight="normal" font-style="normal" >TES</text>
<text x="509.30" y="337.96" font-size="6" text-anchor="start" fill="#222" stroke="#222" stroke-width="0.3" font-weight="normal" font-style="normal" >TSS</text>
<text x="576.80" y="337.96" font-size="6" text-anchor="end" fill="#222" stroke="#222" stroke-width="0.3" font-weight="normal" font-style="normal" >TES</text>
<text x="580.40" y="337.96" font-size="6" text-anchor="start" fill="#222" stroke="#222" stroke-width="0.3" font-weight="normal" font-style="normal" >TSS</text>
<text x="648.40" y="337.96" font-size="6" text-anchor="end" fill="#222" stroke="#222" stroke-width="0.3" font-weight="normal" font-style="normal" >TES</text>
<text x="241.50" y="342.26" font-size="4.9" text-anchor="middle" fill="#222" stroke="#222" stroke-width="0.3" font-weight="normal" font-style="normal" >(transcription start site)</text>
<text x="298.70" y="342.26" font-size="4.9" text-anchor="middle" fill="#222" stroke="#222" stroke-width="0.3" font-weight="normal" font-style="normal" >(transcription end site)</text>
<rect x="396.00" y="173.20" width="92.90" height="156.10" fill="none" stroke="#3c3c3c" stroke-width="1.45"/>
<rect x="401.20" y="184.40" width="57.14" height="18.10" fill="#f7931e" stroke="#222" stroke-width="0.9"/>
<rect x="458.34" y="184.40" width="24.26" height="18.10" fill="#7055e0" stroke="#222" stroke-width="0.9"/>
<text x="443.00" y="181.78" font-size="6.9" text-anchor="middle" fill="#222" stroke="#222" stroke-width="0.3" font-weight="normal" font-style="normal" >weak (&lt;5 sites)</text>
<text x="429.77" y="195.47" font-size="5.6" text-anchor="middle" fill="#3a2a10" stroke="#3a2a10" stroke-width="0.2" font-weight="bold" font-style="normal" >70.2%</text>
<text x="470.47" y="195.47" font-size="5.6" text-anchor="middle" fill="#fff" stroke="#fff" stroke-width="0.2" font-weight="bold" font-style="normal" >29.8%</text>
<line x1="388.00" y1="193.45" x2="394.80" y2="193.45" stroke="#555" stroke-width="1" />
<line x1="489.90" y1="193.45" x2="497.30" y2="193.45" stroke="#555" stroke-width="1" />
<rect x="401.20" y="243.10" width="63.57" height="17.40" fill="#f7931e" stroke="#222" stroke-width="0.9"/>
<rect x="464.77" y="243.10" width="17.83" height="17.40" fill="#7055e0" stroke="#222" stroke-width="0.9"/>
<text x="443.00" y="238.98" font-size="6.9" text-anchor="middle" fill="#222" stroke="#222" stroke-width="0.3" font-weight="normal" font-style="normal" >moderate (5-10 sites)</text>
<text x="432.99" y="253.82" font-size="5.6" text-anchor="middle" fill="#3a2a10" stroke="#3a2a10" stroke-width="0.2" font-weight="bold" font-style="normal" >78.1%</text>
<text x="473.69" y="253.82" font-size="5.6" text-anchor="middle" fill="#fff" stroke="#fff" stroke-width="0.2" font-weight="bold" font-style="normal" >21.9%</text>
<line x1="388.00" y1="251.80" x2="394.80" y2="251.80" stroke="#555" stroke-width="1" />
<line x1="489.90" y1="251.80" x2="497.30" y2="251.80" stroke="#555" stroke-width="1" />
<rect x="401.20" y="301.20" width="66.02" height="17.70" fill="#f7931e" stroke="#222" stroke-width="0.9"/>
<rect x="467.22" y="301.20" width="15.38" height="17.70" fill="#7055e0" stroke="#222" stroke-width="0.9"/>
<text x="443.00" y="298.08" font-size="6.9" text-anchor="middle" fill="#222" stroke="#222" stroke-width="0.3" font-weight="normal" font-style="normal" >heavy (&gt;10 sites)</text>
<text x="434.21" y="312.07" font-size="5.6" text-anchor="middle" fill="#3a2a10" stroke="#3a2a10" stroke-width="0.2" font-weight="bold" font-style="normal" >81.1%</text>
<text x="474.91" y="312.07" font-size="5.6" text-anchor="middle" fill="#fff" stroke="#fff" stroke-width="0.2" font-weight="bold" font-style="normal" >18.9%</text>
<line x1="388.00" y1="310.05" x2="394.80" y2="310.05" stroke="#555" stroke-width="1" />
<line x1="489.90" y1="310.05" x2="497.30" y2="310.05" stroke="#555" stroke-width="1" />
<text x="430.20" y="209.76" font-size="7.1" text-anchor="middle" fill="#f7931e" stroke="#f7931e" stroke-width="0.3" font-weight="normal" font-style="normal" >static</text>
<text x="470.40" y="209.76" font-size="7.1" text-anchor="middle" fill="#7055e0" stroke="#7055e0" stroke-width="0.3" font-weight="normal" font-style="normal" >differential</text>
<text x="400.40" y="336.76" font-size="6" text-anchor="middle" fill="#222" stroke="#222" stroke-width="0.3" font-weight="normal" font-style="normal" >0</text>
<text x="441.50" y="336.76" font-size="6" text-anchor="middle" fill="#222" stroke="#222" stroke-width="0.3" font-weight="normal" font-style="normal" >50</text>
<text x="482.20" y="336.76" font-size="6" text-anchor="middle" fill="#222" stroke="#222" stroke-width="0.3" font-weight="normal" font-style="normal" >100</text>
<text x="441.50" y="343.66" font-size="6" text-anchor="middle" fill="#222" stroke="#222" stroke-width="0.3" font-weight="normal" font-style="normal" >relative fraction (%)</text>
</svg></body></html>
